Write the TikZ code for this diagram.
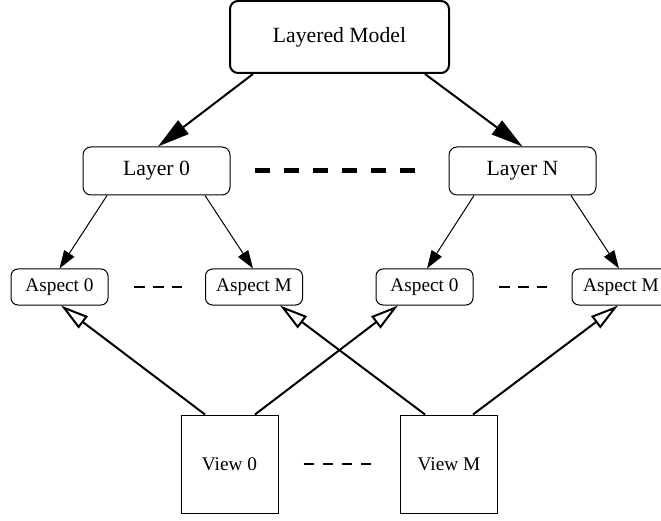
\documentclass[tikz,border=0pt]{standalone}
\usepackage{fontspec}
\setmainfont{Liberation Serif}
\usetikzlibrary{arrows.meta}
\begin{document}
\begin{tikzpicture}[x=1pt,y=-1pt,
  big/.style={font=\fontsize{21.7}{24}\selectfont},
  sml/.style={font=\fontsize{19.3}{22}\selectfont},
  rbox/.style={draw, rounded corners=8pt, line width=1pt, inner sep=0pt},
  abox/.style={draw, rounded corners=7pt, line width=1pt, inner sep=0pt, minimum width=97pt, minimum height=36pt, sml},
  vbox/.style={draw, line width=1pt, inner sep=0pt, minimum width=97pt, minimum height=98pt, sml},
  toparrow/.style={line width=2pt, -{Triangle[length=32pt,width=17pt]}},
  midarrow/.style={line width=1pt, -{Triangle[length=18pt,width=12pt]}},
  openarrow/.style={line width=2pt, -{Triangle[open,length=28pt,width=15pt]}},
  dots/.style={line width=2.5pt}]
\useasboundingbox (0,0) rectangle (661,521);
\node[rbox, line width=2pt, minimum width=219pt, minimum height=72pt, big] (lm) at (339.5,37) {Layered Model};
\node[rbox, minimum width=147pt, minimum height=48pt, big] (l0) at (156.5,171) {Layer 0};
\node[rbox, minimum width=147pt, minimum height=48pt, big] (lN) at (522.5,171) {Layer N};
\node[abox] (a00) at (59.5,287) {Aspect 0};
\node[abox] (a0M) at (254,287) {Aspect M};
\node[abox] (aN0) at (424.5,287) {Aspect 0};
\node[abox, minimum width=98pt] (aNM) at (621,287) {Aspect M};
\node[vbox] (v0) at (229.5,464) {View 0};
\node[vbox] (vM) at (449,464) {View M};
% top arrows
\draw[toparrow] ([xshift=-86.5pt]lm.south) -- ([xshift=1.5pt]l0.north);
\draw[toparrow] ([xshift=85.5pt]lm.south) -- (lN.north);
% layer to aspect
\draw[midarrow] ([xshift=-49.5pt]l0.south) -- (a00.north);
\draw[midarrow] ([xshift=48.5pt]l0.south) -- ([xshift=-1pt]a0M.north);
\draw[midarrow] ([xshift=-48.5pt]lN.south) -- ([xshift=2.5pt]aN0.north);
\draw[midarrow] ([xshift=48.5pt]lN.south) -- ([xshift=-2pt]aNM.north);
% views to aspects
\draw[openarrow] ([xshift=-24.5pt]v0.north) -- ([xshift=1.5pt]a00.south);
\draw[openarrow] ([xshift=25.5pt]v0.north) -- ([xshift=-26.5pt]aN0.south);
\draw[openarrow] ([xshift=-24pt]vM.north) -- ([xshift=26pt]a0M.south);
\draw[openarrow] ([xshift=24pt]vM.north) -- ([xshift=-3pt]aNM.south);
% ellipsis dashes
\draw[line width=5pt, dash pattern=on 15pt off 14pt] ([xshift=24pt]l0.east) -- ([xshift=-33pt]lN.west);
\draw[dots, dash pattern=on 11pt off 8pt] ([xshift=25pt]a00.east) -- ([xshift=-23pt]a0M.west);
\draw[dots, dash pattern=on 11pt off 8pt] ([xshift=25pt]aN0.east) -- ([xshift=-25pt]aNM.west);
\draw[dots, dash pattern=on 10pt off 9.33pt] ([xshift=25pt]v0.east) -- ([xshift=-29pt]vM.west);
\end{tikzpicture}
\end{document}
